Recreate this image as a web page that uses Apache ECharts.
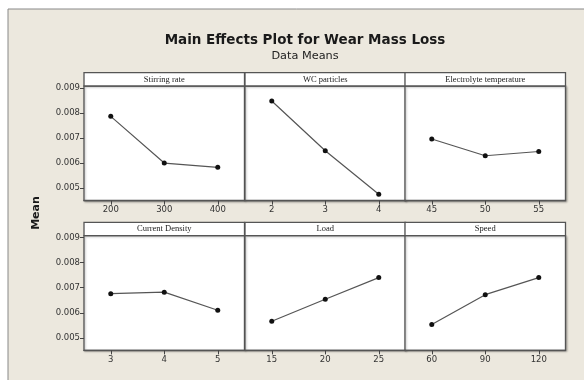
<!DOCTYPE html>
<html><head><meta charset="utf-8">
<script src="https://cdn.jsdelivr.net/npm/echarts@6/dist/echarts.min.js"></script>
<style>html,body{margin:0;padding:0;background:#fff;overflow:hidden}#c{width:584px;height:380px}</style>
</head><body><div id="c"></div>
<script>
// ---- data ----
const factors = ['Stirring rate','WC particles','Electrolyte temperature','Current Density','Load','Speed'];
const stirringLevels = ['200','300','400'];
const wcLevels = ['2','3','4'];
const electrolyteLevels = ['45','50','55'];
const currentLevels = ['3','4','5'];
const loadLevels = ['15','20','25'];
const speedLevels = ['60','90','120'];
const stirringMeans = [0.00786, 0.00600, 0.00583];
const wcMeans = [0.00847, 0.00649, 0.00476];
const electrolyteMeans = [0.00696, 0.00629, 0.00646];
const currentMeans = [0.00676, 0.00682, 0.00610];
const loadMeans = [0.00566, 0.00654, 0.00740];
const speedMeans = [0.00553, 0.00672, 0.00740];
const grandMean = 0.00656;
const yTicks = [0.005, 0.006, 0.007, 0.008, 0.009];
const titleText = 'Main Effects Plot for Wear Mass Loss';
const subtitleText = 'Data Means';
const yName = 'Mean';

const levelsList = [stirringLevels, wcLevels, electrolyteLevels, currentLevels, loadLevels, speedLevels];
const meansList = [stirringMeans, wcMeans, electrolyteMeans, currentMeans, loadMeans, speedMeans];

// ---- layout ----
const colLeft = [84, 245, 405];
const colW = 160.5;
const rowTop = [86, 235.7];
const plotH = 114.7;
const headH = 13.3;
const yMin = 0.0045, yMax = 0.00907;
const border = '#555';

const grids = [], xAxes = [], yAxes = [], series = [], graphics = [];

graphics.push({type:'rect', shape:{x:8, y:9, width:800, height:600}, style:{fill:'#ECE8DE', stroke:'#888', lineWidth:1}, z:-10});

for (let i = 0; i < 6; i++) {
  const r = Math.floor(i/3), c = i%3;
  grids.push({left: colLeft[c], top: rowTop[r], width: colW, height: plotH, show: true,
    backgroundColor: '#fff', borderColor: border, borderWidth: 1.3,
    shadowColor: 'rgba(0,0,0,0.25)', shadowBlur: 2, shadowOffsetX: 1, shadowOffsetY: 1});
  xAxes.push({type: 'category', gridIndex: i, data: levelsList[i], boundaryGap: true,
    axisLine: {show: true, lineStyle: {color: border, width: 1.3}},
    axisTick: {show: true, alignWithLabel: true, length: 4, lineStyle: {color: '#444'}},
    axisLabel: {color: '#333', fontSize: 8.5, fontFamily: 'DejaVu Sans', margin: 5},
    splitLine: {show: false}});
  yAxes.push({type: 'value', gridIndex: i, min: yMin, max: yMax,
    axisLine: {show: false},
    axisTick: {show: c === 0, length: 4, inside: false, customValues: yTicks, lineStyle: {color: '#444'}},
    axisLabel: {show: c === 0, customValues: yTicks, color: '#333', fontSize: 8.5, fontFamily: 'DejaVu Sans', margin: 4,
      formatter: v => v.toFixed(3)},
    splitLine: {show: false}});
  series.push({type: 'line', xAxisIndex: i, yAxisIndex: i, data: meansList[i],
    symbol: 'circle', symbolSize: 5, showSymbol: true,
    itemStyle: {color: '#111'}, lineStyle: {color: '#555', width: 1.2},
    animation: false, z: 5,
    markLine: {silent: true, symbol: ['none','none'], label: {show: false},
      lineStyle: {color: '#555', width: 1.3, type: 'solid'}, data: [{yAxis: grandMean}], animation: false}});
  // header strip
  graphics.push({type: 'rect', shape: {x: colLeft[c], y: rowTop[r] - headH, width: colW, height: headH},
    style: {fill: '#fff', stroke: border, lineWidth: 1.3}, z: 10});
  graphics.push({type: 'text', x: colLeft[c] + colW/2, y: rowTop[r] - headH/2,
    style: {text: factors[i], fill: '#222', font: '8.5px "Liberation Serif"', align: 'center', verticalAlign: 'middle'}, z: 11});
}

const chart = echarts.init(document.getElementById('c'), null, {renderer: 'canvas'});
chart.setOption({
  backgroundColor: '#fff',
  animation: false,
  title: [
    {text: titleText, left: 300, top: 28, textAlign: 'center',
      textStyle: {fontFamily: 'DejaVu Sans', fontWeight: 'bold', fontSize: 13.5, color: '#1a1a1a'}},
    {text: subtitleText, left: 300, top: 46, textAlign: 'center',
      textStyle: {fontFamily: 'DejaVu Sans', fontWeight: 'normal', fontSize: 11.3, color: '#222'}}
  ],
  graphic: graphics.concat([{type: 'text', x: 36, y: 213, rotation: Math.PI/2,
    style: {text: yName, fill: '#1a1a1a', font: 'bold 11px "DejaVu Sans"', align: 'center', verticalAlign: 'middle'}}]),
  grid: grids, xAxis: xAxes, yAxis: yAxes, series: series
});
</script></body></html>
